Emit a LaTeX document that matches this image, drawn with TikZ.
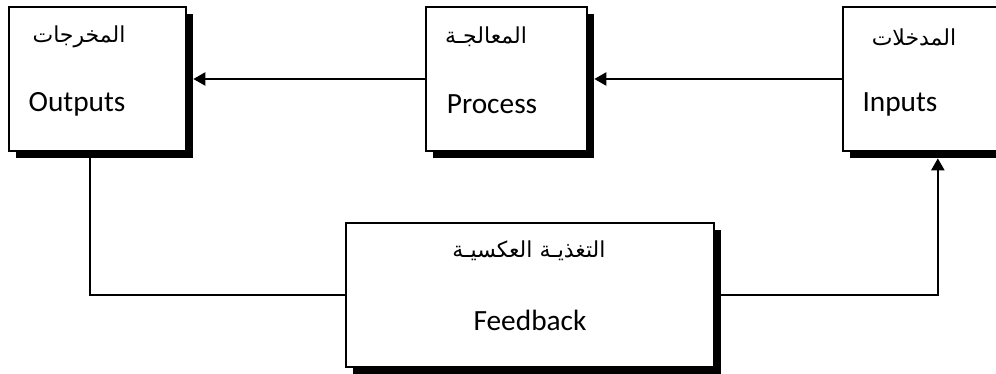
\documentclass[tikz,border=0pt]{standalone}
\usepackage{fontspec}
\setmainfont{Carlito}
\newfontfamily\arabicfont[Script=Arabic]{DejaVu Sans}
\TeXXeTstate=1
\usetikzlibrary{arrows.meta,shadows,calc}

\begin{document}
\begin{tikzpicture}[x=0.75pt,y=-0.75pt,
  box/.style={draw, fill=white, line width=1.1pt, minimum height=108pt,
    drop shadow={shadow xshift=5pt, shadow yshift=-5pt, fill=black, opacity=1}},
  ar/.style={font=\arabicfont\fontsize{16.5}{18}\selectfont, inner sep=0pt},
  en/.style={font=\fontsize{22}{24}\selectfont, inner sep=0pt},
  link/.style={line width=1.1pt},
  arr/.style={link, -{Triangle[length=9pt,width=10pt]}}]
\useasboundingbox (0,0) rectangle (996,374);
\clip (0,0) rectangle (996,374);
\node[box, minimum width=132.75pt] (out) at (97.5,79) {};
\node[box, minimum width=120.75pt] (proc) at (506.5,79) {};
\node[box, minimum width=125.25pt] (inp) at (926.5,79) {};
\node[box, minimum width=276pt] (fb) at (530,295) {};

\node[ar] (outar) at (79,37) {\beginR المخرجات\endR};
\node[en] (outen) at (77,104) {Outputs};
\node[ar] (procar) at (486,37) {\beginR المعالجـة\endR};
\node[en] (procen) at (492,104) {Process};
\node[ar] (inpar) at (914,37) {\beginR المدخلات\endR};
\node[en] (inpen) at (900,104) {Inputs};
\node[ar] (fbar) at (529,251) {\beginR التغذيـة العكسيـة\endR};
\node[en] (fben) at (530,320) {Feedback};

\draw[arr] (proc.west) -- ([xshift=5pt]out.east);
\draw[arr] (inp.west) -- ([xshift=5pt]proc.east);
\draw[link] ([xshift=-5.5pt]out.south) |- (fb.west);
\draw[arr] (fb.east) -| ([xshift=8.5pt,yshift=-5pt]inp.south);
\end{tikzpicture}
\end{document}
